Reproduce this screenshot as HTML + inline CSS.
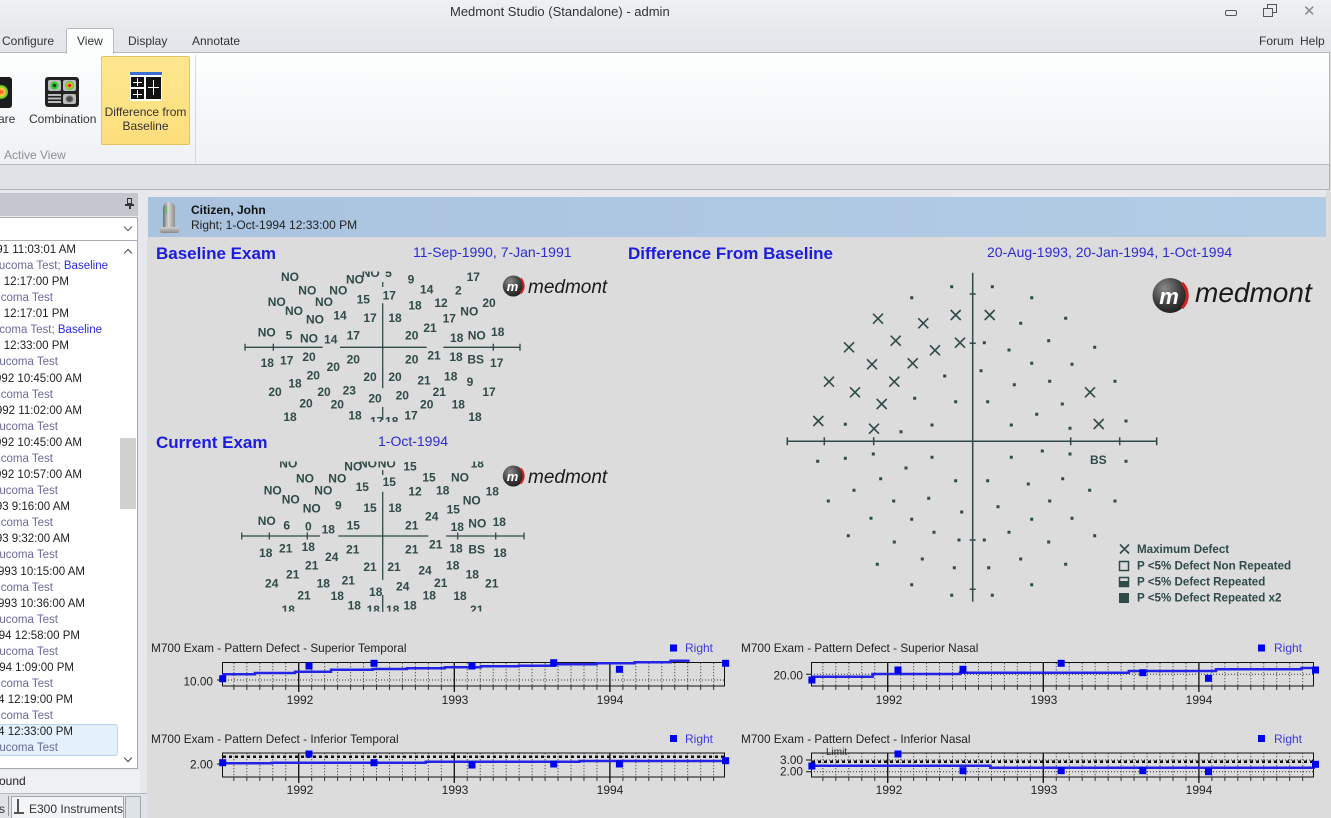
<!DOCTYPE html>
<html><head><meta charset="utf-8"><style>
*{margin:0;padding:0;box-sizing:border-box}
body{width:1331px;height:818px;overflow:hidden;position:relative;background:#dcdcdc;font-family:"Liberation Sans",Arial,sans-serif;}
.a{position:absolute;white-space:nowrap}
.t12{font-size:12px;line-height:14px;color:#333}
.li{position:absolute;left:0;height:16px;overflow:hidden}
.li span{position:absolute;right:0;top:0;white-space:nowrap;font-size:11.5px;line-height:16px}
.tm{color:#1e1e1e}.ty{color:#6a6a9c}.bl{color:#2a2ae0}
</style></head><body>

<!-- top chrome -->
<div class="a" style="left:0;top:0;width:1331px;height:53px;background:linear-gradient(#eef0f3,#e1e4e8)"></div>
<div class="a" style="left:450px;top:4px;font-size:13px;color:#333">Medmont Studio (Standalone) - admin</div>
<div class="a" style="left:1225px;top:10px;width:12px;height:6px;border:1.5px solid #555;border-radius:2px"></div>
<div class="a" style="left:1267px;top:4px;width:10px;height:9px;border:1.5px solid #555"></div>
<div class="a" style="left:1263px;top:8px;width:10px;height:9px;border:1.5px solid #555;background:#e8eaee"></div>
<div class="a" style="left:1303px;top:2px;font-size:15px;color:#888">✕</div>

<div class="a" style="left:-1px;top:52px;width:1331px;height:113px;background:linear-gradient(#fdfefe,#eff1f4);border:1px solid #b4b9bf"></div>
<div class="a" style="left:66px;top:28px;width:48px;height:26px;background:#fcfdfd;border:1px solid #b6bbc2;border-bottom:none;border-radius:2px 2px 0 0"></div>
<div class="a t12" style="left:2px;top:34px">Configure</div>
<div class="a t12" style="left:77px;top:34px">View</div>
<div class="a t12" style="left:128px;top:34px">Display</div>
<div class="a t12" style="left:192px;top:34px">Annotate</div>
<div class="a t12" style="left:1259px;top:34px">Forum</div>
<div class="a t12" style="left:1300px;top:34px">Help</div>

<!-- ribbon buttons -->
<div class="a" style="left:-5px;top:77px;width:17px;height:31px;background:#1c1c1c;border-radius:3px"></div>
<div class="a" style="left:-6px;top:85px;width:14px;height:14px;border-radius:50%;background:radial-gradient(#f33 0,#fc3 35%,#3c3 70%,#1c1c1c 100%)"></div>
<div class="a t12" style="left:-2px;top:112px">are</div>
<div class="a" style="left:45px;top:77px;width:34px;height:30px;background:#222;border-radius:3px"></div>
<div class="a" style="left:48px;top:80px;width:13px;height:11px;background:#bbb;border-radius:2px"></div>
<div class="a" style="left:50px;top:81px;width:9px;height:9px;border-radius:50%;background:radial-gradient(#333 25%,#3c3 30%,#3c3 60%,#bbb 65%)"></div>
<div class="a" style="left:63px;top:80px;width:13px;height:11px;background:#bbb;border-radius:2px"></div>
<div class="a" style="left:65px;top:81px;width:9px;height:9px;border-radius:50%;background:radial-gradient(#e22 25%,#fc2 35%,#3c3 65%,#bbb 70%)"></div>
<div class="a" style="left:48px;top:94px;width:13px;height:10px;background:repeating-linear-gradient(#bbb 0 2px,#222 2px 3.5px)"></div>
<div class="a" style="left:63px;top:94px;width:13px;height:10px;background:#bbb;border-radius:2px"></div>
<div class="a" style="left:65px;top:95px;width:9px;height:8px;border-radius:50%;background:radial-gradient(#444 30%,#888 60%,#bbb 65%)"></div>
<div class="a t12" style="left:29px;top:112px">Combination</div>

<div class="a" style="left:101px;top:56px;width:89px;height:89px;background:linear-gradient(#fde78f,#fdde7c);border:1px solid #e3c263;border-radius:2px"></div>
<div class="a" style="left:130px;top:72px;width:32px;height:29px;background:#fff;border-top:3px solid #3a6fd0"></div>
<div class="a" style="left:131px;top:77px;width:13px;height:10px;background:#111"></div>
<div class="a" style="left:131px;top:89px;width:13px;height:10px;background:#111"></div>
<div class="a" style="left:146px;top:77px;width:15px;height:22px;background:#111"></div>
<div class="a" style="left:153px;top:80px;width:1px;height:15px;background:#fff"></div>
<div class="a" style="left:148px;top:87px;width:11px;height:1px;background:#fff"></div>
<div class="a" style="left:137px;top:78px;width:1px;height:8px;background:#fff"></div>
<div class="a" style="left:133px;top:82px;width:9px;height:1px;background:#fff"></div>
<div class="a" style="left:137px;top:90px;width:1px;height:8px;background:#fff"></div>
<div class="a" style="left:133px;top:94px;width:9px;height:1px;background:#fff"></div>
<div class="a t12" style="left:101px;top:105px;width:89px;text-align:center">Difference from</div>
<div class="a t12" style="left:101px;top:119px;width:89px;text-align:center">Baseline</div>
<div class="a t12" style="left:4px;top:148px;color:#8c9198">Active View</div>
<div class="a" style="left:195px;top:55px;width:1px;height:108px;background:#d5d9de"></div>

<div class="a" style="left:-1px;top:165px;width:1331px;height:25px;background:#dfe2e7;border-bottom:1px solid #aeb3b9;border-right:1px solid #b0b5bb"></div>
<div class="a" style="left:0;top:190px;width:1331px;height:628px;background:#e6e8eb"></div>
<div class="a" style="left:147px;top:237px;width:1184px;height:581px;background:#dcdcdc"></div>
<div class="a" style="left:1326px;top:190px;width:5px;height:50px;background:#dcdcdc"></div>

<!-- header bar -->
<div class="a" style="left:148px;top:197px;width:1178px;height:40px;background:linear-gradient(90deg,#a9c2de,#b3cce6)"></div>
<div class="a" style="left:163px;top:202px;width:12px;height:26px;border-radius:6px 6px 2px 2px;background:linear-gradient(90deg,#6e6e6e,#d8d8d8 45%,#8a8a8a)"></div>
<div class="a" style="left:165px;top:206px;width:2px;height:8px;background:#5fbf6a"></div>
<div class="a" style="left:160px;top:227px;width:19px;height:6px;border-radius:2px;background:linear-gradient(#d0d0d0,#8a8a8a)"></div>
<div class="a" style="left:191px;top:203px;font-size:12px;font-weight:bold;color:#111">Citizen, John</div>
<div class="a" style="left:191px;top:218px;font-size:12px;color:#222">Right; 1-Oct-1994 12:33:00 PM</div>

<!-- left panel -->
<div class="a" style="left:0;top:193px;width:138px;height:23px;background:#c4c8ce"></div>
<div class="a" style="left:127px;top:198px;width:5px;height:6px;border:1.5px solid #333"></div>
<div class="a" style="left:125px;top:204px;width:9px;height:1.5px;background:#333"></div>
<div class="a" style="left:129px;top:205px;width:1.5px;height:4px;background:#333"></div>
<div class="a" style="left:-1px;top:217px;width:139px;height:24px;background:#fff;border:1px solid #abadb3"></div>
<div class="a" style="left:125px;top:224px;width:6px;height:6px;border-right:1.5px solid #555;border-bottom:1.5px solid #555;transform:rotate(45deg)"></div>
<div class="a" style="left:0;top:241px;width:138px;height:528px;background:#fff;border-right:1px solid #a5a9ae;border-bottom:1px solid #a5a9ae"></div>
<div class="a" style="left:120px;top:438px;width:16px;height:71px;background:#d0d0d0"></div>
<div class="a" style="left:125px;top:250px;width:6px;height:6px;border-left:1.5px solid #444;border-top:1.5px solid #444;transform:rotate(45deg)"></div>
<div class="a" style="left:125px;top:755px;width:6px;height:6px;border-right:1.5px solid #444;border-bottom:1.5px solid #444;transform:rotate(45deg)"></div>
<div class="a" style="left:-2px;top:724px;width:120px;height:32px;background:#e4f0fb;border:1px solid #b8d6f0;border-radius:3px"></div>

<div class="li" style="top:242px;width:76px"><span class="tm">1-1991 11:03:01 AM</span></div>
<div class="li" style="top:258px;width:108px"><span class="ty">Glaucoma Test; <b class="bl" style="font-weight:normal">Baseline</b></span></div>
<div class="li" style="top:274px;width:69px"><span class="tm">1991 12:17:00 PM</span></div>
<div class="li" style="top:290px;width:53px"><span class="ty">Glaucoma Test</span></div>
<div class="li" style="top:306px;width:69px"><span class="tm">1991 12:17:01 PM</span></div>
<div class="li" style="top:322px;width:102px"><span class="ty">Glaucoma Test; <b class="bl" style="font-weight:normal">Baseline</b></span></div>
<div class="li" style="top:338px;width:69px"><span class="tm">1991 12:33:00 PM</span></div>
<div class="li" style="top:354px;width:58px"><span class="ty">Glaucoma Test</span></div>
<div class="li" style="top:371px;width:82px"><span class="tm">1992 10:45:00 AM</span></div>
<div class="li" style="top:387px;width:53px"><span class="ty">Glaucoma Test</span></div>
<div class="li" style="top:403px;width:82px"><span class="tm">1992 11:02:00 AM</span></div>
<div class="li" style="top:419px;width:58px"><span class="ty">Glaucoma Test</span></div>
<div class="li" style="top:435px;width:82px"><span class="tm">1992 10:45:00 AM</span></div>
<div class="li" style="top:451px;width:53px"><span class="ty">Glaucoma Test</span></div>
<div class="li" style="top:467px;width:82px"><span class="tm">1992 10:57:00 AM</span></div>
<div class="li" style="top:483px;width:58px"><span class="ty">Glaucoma Test</span></div>
<div class="li" style="top:499px;width:70px"><span class="tm">1993 9:16:00 AM</span></div>
<div class="li" style="top:515px;width:53px"><span class="ty">Glaucoma Test</span></div>
<div class="li" style="top:531px;width:70px"><span class="tm">1993 9:32:00 AM</span></div>
<div class="li" style="top:547px;width:58px"><span class="ty">Glaucoma Test</span></div>
<div class="li" style="top:564px;width:85px"><span class="tm">1993 10:15:00 AM</span></div>
<div class="li" style="top:580px;width:53px"><span class="ty">Glaucoma Test</span></div>
<div class="li" style="top:596px;width:85px"><span class="tm">1993 10:36:00 AM</span></div>
<div class="li" style="top:612px;width:58px"><span class="ty">Glaucoma Test</span></div>
<div class="li" style="top:628px;width:80px"><span class="tm">1994 12:58:00 PM</span></div>
<div class="li" style="top:644px;width:58px"><span class="ty">Glaucoma Test</span></div>
<div class="li" style="top:660px;width:74px"><span class="tm">1994 1:09:00 PM</span></div>
<div class="li" style="top:676px;width:53px"><span class="ty">Glaucoma Test</span></div>
<div class="li" style="top:692px;width:73px"><span class="tm">1994 12:19:00 PM</span></div>
<div class="li" style="top:708px;width:53px"><span class="ty">Glaucoma Test</span></div>
<div class="li" style="top:724px;width:73px"><span class="tm">1994 12:33:00 PM</span></div>
<div class="li" style="top:740px;width:58px"><span class="ty">Glaucoma Test</span></div>

<div class="a" style="left:0;top:770px;width:140px;height:23px;background:#eff0f2"></div>
<div class="a" style="left:-1px;top:774px;font-size:12px;color:#222">ound</div>
<div class="a" style="left:0;top:793px;width:147px;height:25px;background:#dfe2e6;border-top:1px solid #b5bac0"></div>
<div class="a" style="left:-1px;top:802px;font-size:12px;color:#333">s</div>
<div class="a" style="left:8px;top:796px;width:1px;height:20px;background:#8e949b"></div>
<div class="a" style="left:11px;top:796px;width:113px;height:22px;background:#f3f4f6;border:1px solid #a0a6ad;border-bottom:none"></div>
<div class="a" style="left:17px;top:799px;width:2px;height:15px;background:#555"></div>
<div class="a" style="left:14px;top:812px;width:10px;height:2px;background:#555"></div>
<div class="a" style="left:29px;top:802px;font-size:12px;color:#333">E300 Instruments</div>
<div class="a" style="left:125px;top:796px;width:16px;height:22px;border:1px solid #a0a6ad;border-bottom:none"></div>

<svg class="a" style="left:0;top:0" width="1331" height="818" viewBox="0 0 1331 818" xmlns="http://www.w3.org/2000/svg">
<defs>
<clipPath id="cb"><rect x="230" y="271.5" width="300" height="150.5"/></clipPath>
<clipPath id="cc"><rect x="230" y="461.5" width="300" height="150"/></clipPath>
<pattern id="md" patternUnits="userSpaceOnUse" x="298.2" y="0" width="12.967" height="3"><rect width="1" height="1.3" fill="#555"/></pattern>
<pattern id="mt" patternUnits="userSpaceOnUse" x="298.2" y="0" width="12.967" height="30"><rect width="1" height="30" fill="#333"/></pattern>
<radialGradient id="lg" cx="0.35" cy="0.3" r="0.8"><stop offset="0" stop-color="#8a8a8a"/><stop offset="0.6" stop-color="#3a3a3a"/><stop offset="1" stop-color="#1a1a1a"/></radialGradient>
</defs>

<g font-family="Liberation Sans, Arial, sans-serif">
<text x="156" y="259" font-size="17" font-weight="bold" fill="#1c1cdf">Baseline Exam</text>
<text x="413" y="257" font-size="14" fill="#2b2bd6">11-Sep-1990, 7-Jan-1991</text>
<text x="156" y="448" font-size="17" font-weight="bold" fill="#1c1cdf">Current Exam</text>
<text x="378" y="446" font-size="14" fill="#2b2bd6">1-Oct-1994</text>
<text x="628" y="259" font-size="17" font-weight="bold" fill="#1c1cdf">Difference From Baseline</text>
<text x="987" y="257" font-size="14" fill="#2b2bd6">20-Aug-1993, 20-Jan-1994, 1-Oct-1994</text>

<!-- logos -->
<g>
<circle cx="513.3" cy="286" r="10.5" fill="url(#lg)"/>
<path d="M520.5 278.5 A10.5 10.5 0 0 1 520.5 293.5" fill="none" stroke="#d42020" stroke-width="2"/>
<text x="512.5" y="291" font-size="13" font-weight="bold" font-style="italic" fill="#fff" text-anchor="middle">m</text>
<text x="528" y="293" font-size="19" font-style="italic" fill="#1a1a1a">medmont</text>
</g>
<g>
<circle cx="513.3" cy="476" r="10.5" fill="url(#lg)"/>
<path d="M520.5 468.5 A10.5 10.5 0 0 1 520.5 483.5" fill="none" stroke="#d42020" stroke-width="2"/>
<text x="512.5" y="481" font-size="13" font-weight="bold" font-style="italic" fill="#fff" text-anchor="middle">m</text>
<text x="528" y="483" font-size="19" font-style="italic" fill="#1a1a1a">medmont</text>
</g>
<g>
<circle cx="1170" cy="295.5" r="17.5" fill="url(#lg)"/>
<path d="M1182 283 A17.5 17.5 0 0 1 1182 308" fill="none" stroke="#d42020" stroke-width="3"/>
<text x="1169" y="304" font-size="22" font-weight="bold" font-style="italic" fill="#fff" text-anchor="middle">m</text>
<text x="1195" y="302" font-size="28" font-style="italic" fill="#1a1a1a">medmont</text>
</g>

<!-- baseline axes -->
<g stroke="#2f4a48" stroke-width="1.3" fill="none">
<path d="M245 347.3H322.7M340 347.3H426.7M443.3 347.3H520"/>
<path d="M245 343.8v7M273.3 343.8v7M493.3 343.8v7M520 343.8v7"/>
<path d="M382.7 303.3V388.3M382.7 282V287M382.7 407V420"/>
<path d="M241.7 536H320M338.3 536H428.3M446 536H524"/>
<path d="M241.7 532.5v7M269.3 532.5v7M307.3 532.5v7M457.7 532.5v7M495.7 532.5v7M524 532.5v7"/>
<path d="M382.7 491.7V580M382.7 470V475M382.7 595V612"/>
</g>

<g font-size="12" font-weight="bold" fill="#2f4a48" text-anchor="middle" clip-path="url(#cb)">
<text x="290" y="281">NO</text><text x="355" y="283.6">NO</text><text x="370.7" y="276.8">NO</text><text x="388.5" y="276.8">5</text>
<text x="411" y="283.3">9</text><text x="426.7" y="293.6">14</text><text x="458.3" y="294.3">2</text><text x="473.3" y="281">17</text>
<text x="307.3" y="294.3">NO</text><text x="338.3" y="294.3">NO</text><text x="363.3" y="303.6">15</text><text x="389.3" y="299.3">17</text>
<text x="415" y="309.3">18</text><text x="441" y="307">12</text><text x="469.3" y="315.3">NO</text><text x="489" y="307">20</text>
<text x="276.7" y="306">NO</text><text x="294" y="315">NO</text><text x="324" y="306">NO</text><text x="315" y="323.3">NO</text>
<text x="340" y="319.3">14</text><text x="370" y="322">17</text><text x="395" y="322">18</text><text x="449.3" y="322.6">17</text>
<text x="266.7" y="336.6">NO</text><text x="289" y="339.3">5</text><text x="309" y="342.6">NO</text><text x="330.7" y="343.6">14</text>
<text x="353.3" y="339.3">17</text><text x="411.7" y="339.3">20</text><text x="430" y="332">21</text><text x="456.7" y="342">18</text>
<text x="476.7" y="339.3">NO</text><text x="497.7" y="336">18</text>
<text x="267.3" y="367">18</text><text x="286.7" y="364.3">17</text><text x="309" y="361">20</text><text x="333.3" y="371">20</text>
<text x="353.3" y="363.3">20</text><text x="411.7" y="363.3">20</text><text x="434" y="359.3">21</text><text x="456" y="361">18</text>
<text x="475.7" y="363.3">BS</text><text x="496.7" y="367">17</text>
<text x="295" y="387.6">18</text><text x="313.3" y="379.3">20</text><text x="370" y="381">20</text><text x="395" y="381">20</text>
<text x="424" y="384.3">21</text><text x="450.7" y="380.3">18</text><text x="470" y="386">9</text><text x="489" y="396">17</text>
<text x="275" y="396">20</text><text x="324" y="396">20</text><text x="349.3" y="394.3">23</text><text x="375" y="402.6">20</text>
<text x="402.3" y="399.3">20</text><text x="439.3" y="396">21</text>
<text x="306" y="407.6">20</text><text x="337.3" y="408.6">20</text><text x="355" y="419.3">18</text><text x="376.7" y="425.3">17</text>
<text x="391.7" y="425.3">18</text><text x="411" y="419.3">17</text><text x="426.7" y="408.3">20</text><text x="458.3" y="408.3">18</text>
<text x="290" y="421">18</text><text x="475" y="421">18</text>
</g>

<g font-size="12" font-weight="bold" fill="#2f4a48" text-anchor="middle" clip-path="url(#cc)">
<text x="288.3" y="467.3">NO</text><text x="305" y="482.6">NO</text><text x="337.3" y="482.6">NO</text><text x="353.3" y="470.3">NO</text>
<text x="368" y="467.3">NO</text><text x="386.7" y="467.3">NO</text><text x="410" y="470.3">15</text><text x="477.3" y="467.3">18</text>
<text x="362.3" y="491">15</text><text x="389.3" y="486">15</text><text x="429" y="481.6">15</text><text x="460" y="481.6">NO</text>
<text x="272.7" y="494.3">NO</text><text x="323.3" y="494.3">NO</text><text x="415" y="495.3">12</text><text x="442.7" y="494.3">18</text><text x="492.3" y="495.3">18</text>
<text x="290.7" y="503.3">NO</text><text x="311.7" y="512.6">NO</text><text x="338.3" y="509.3">9</text><text x="370" y="512">15</text>
<text x="395" y="512">18</text><text x="431.7" y="520.3">24</text><text x="453.3" y="513.3">15</text><text x="471.7" y="504.3">NO</text>
<text x="266.7" y="525">NO</text><text x="286.7" y="529.3">6</text><text x="308.3" y="530.3">0</text><text x="328.3" y="533.6">18</text>
<text x="353.3" y="529.3">15</text><text x="411.7" y="529.3">21</text><text x="457.3" y="531">18</text><text x="477.3" y="527.6">NO</text><text x="499.3" y="526">18</text>
<text x="265.7" y="557">18</text><text x="285.7" y="552.6">21</text><text x="308.3" y="551">18</text><text x="331.7" y="561">24</text>
<text x="352.7" y="553.3">21</text><text x="411.7" y="553.3">21</text><text x="435.7" y="548.6">21</text><text x="456" y="552.6">18</text>
<text x="476.7" y="553.3">BS</text><text x="500" y="557">18</text>
<text x="292.7" y="578.3">21</text><text x="311.7" y="569.3">21</text><text x="370" y="571">21</text><text x="394" y="571">21</text>
<text x="425" y="574.3">24</text><text x="452.7" y="569.3">18</text><text x="472.3" y="578.3">18</text><text x="491.7" y="587.6">21</text>
<text x="271.7" y="587.6">24</text><text x="323.3" y="587.6">18</text><text x="348.3" y="584.3">21</text><text x="375.7" y="596">18</text>
<text x="402.7" y="590.3">24</text><text x="440.7" y="587">21</text>
<text x="304" y="599.3">21</text><text x="337.3" y="600">18</text><text x="429.3" y="599.3">18</text><text x="460" y="600">18</text>
<text x="288.3" y="614">18</text><text x="354.3" y="609.3">18</text><text x="373.3" y="614">18</text><text x="392.7" y="614">18</text>
<text x="410" y="609.3">18</text><text x="476.7" y="614">21</text>
</g>

<!-- difference plot -->
<g stroke="#2f4a48" stroke-width="1.5" fill="none">
<path d="M787.3 441.3H1156.7M972.7 272.7V601.7"/>
<path d="M787.3 437.3v8M824.3 437.3v8M873.7 437.3v8M1070.7 437.3v8M1119.7 437.3v8M1156.7 437.3v8"/>
<path d="M969.7 294h6M969.7 343.3h6M969.7 540h6M969.7 589.3h6"/>
<path stroke-width="1.6" d="M873 313.7l10 10m0-10l-10 10M918.3 318.3l10 10m0-10l-10 10M950.7 310l10 10m0-10l-10 10M984.7 310l10 10m0-10l-10 10M844 342.3l10 10m0-10l-10 10M890.7 335.7l10 10m0-10l-10 10M930 345.3l10 10m0-10l-10 10M955 337.7l10 10m0-10l-10 10M867 359.3l10 10m0-10l-10 10M907.7 358.3l10 10m0-10l-10 10M824 376.7l10 10m0-10l-10 10M889.3 376.7l10 10m0-10l-10 10M850 387.3l10 10m0-10l-10 10M876.7 399l10 10m0-10l-10 10M813.3 416l10 10m0-10l-10 10M869 423.7l10 10m0-10l-10 10M1085 387.3l10 10m0-10l-10 10M1093.7 419l10 10m0-10l-10 10M1120 544.5l9 9m0-9l-9 9"/>
<rect x="1119.5" y="561.5" width="9" height="9"/>
<rect x="1119.5" y="577.5" width="9" height="9"/>
</g>
<rect x="1119.5" y="581" width="9" height="6" fill="#2f4a48"/>
<rect x="1119" y="593" width="10" height="10" fill="#2f4a48"/>
<path fill="#2f4a48" d="M950.2 285.2h3v3h-3zM990.8 285.2h3v3h-3zM910.2 296.2h3v3h-3zM1030.2 296.2h3v3h-3zM1019.2 321.8h3v3h-3zM1064.2 316.8h3v3h-3zM982.8 341.2h3v3h-3zM1007.5 348.5h3v3h-3zM1047.2 339.2h3v3h-3zM1093.2 345.8h3v3h-3zM1030.2 361.8h3v3h-3zM1070.5 362.8h3v3h-3zM979.5 369.2h3v3h-3zM943.2 374.5h3v3h-3zM1012.8 383.2h3v3h-3zM1048.2 379.8h3v3h-3zM1113.5 379.8h3v3h-3zM913.2 396.8h3v3h-3zM954.2 400.2h3v3h-3zM986.2 400.2h3v3h-3zM1060.8 402.5h3v3h-3zM1035.2 412.8h3v3h-3zM843.8 422.8h3v3h-3zM899.5 430.2h3v3h-3zM930.5 423.5h3v3h-3zM1009.8 423.5h3v3h-3zM1068.5 426.8h3v3h-3zM1124.5 419.5h3v3h-3zM816.2 459.8h3v3h-3zM843.8 456.8h3v3h-3zM871.8 452.5h3v3h-3zM930.5 455.8h3v3h-3zM1009.8 455.8h3v3h-3zM1040.8 449.5h3v3h-3zM1068.5 452.5h3v3h-3zM1124.5 459.8h3v3h-3zM904.5 466.5h3v3h-3zM879.2 477.2h3v3h-3zM954.2 479.2h3v3h-3zM986.2 479.2h3v3h-3zM1026.8 482.5h3v3h-3zM1061.2 477.2h3v3h-3zM852.5 488.8h3v3h-3zM1088.2 488.8h3v3h-3zM826.8 499.5h3v3h-3zM892.2 499.5h3v3h-3zM927.2 496.8h3v3h-3zM996.5 505.2h3v3h-3zM1048.2 499.5h3v3h-3zM1113.5 499.5h3v3h-3zM960.2 510.5h3v3h-3zM869.5 516.8h3v3h-3zM910.2 517.8h3v3h-3zM1030.2 517.8h3v3h-3zM1070.5 516.8h3v3h-3zM846.8 534.2h3v3h-3zM932.5 530.8h3v3h-3zM1007.5 530.8h3v3h-3zM1093.2 534.2h3v3h-3zM892.8 540.5h3v3h-3zM957.5 538.5h3v3h-3zM982.8 538.5h3v3h-3zM1047.2 540.5h3v3h-3zM875.8 562.8h3v3h-3zM920.8 557.5h3v3h-3zM952.8 566.2h3v3h-3zM987.2 566.2h3v3h-3zM1019.2 557.5h3v3h-3zM1064.2 562.8h3v3h-3zM910.2 583.2h3v3h-3zM1030.2 583.2h3v3h-3zM950.2 593.8h3v3h-3zM990.8 593.8h3v3h-3z"/>
<text x="1098.3" y="464" font-size="12" font-weight="bold" fill="#2f4a48" text-anchor="middle">BS</text>
<g font-size="11.6" font-weight="bold" fill="#2f4a48">
<text x="1137" y="553.2">Maximum Defect</text>
<text x="1137" y="569.6">P &lt;5% Defect Non Repeated</text>
<text x="1137" y="585.6">P &lt;5% Defect Repeated</text>
<text x="1137" y="601.6">P &lt;5% Defect Repeated x2</text>
</g>

<!-- bottom charts: frames -->
<g id="frames">
<rect x="222" y="662" width="503" height="24" fill="url(#md)"/>
<rect x="222" y="686" width="503" height="4" fill="url(#mt)"/>
<rect x="222" y="752.5" width="503" height="24.5" fill="url(#md)"/>
<rect x="222" y="777" width="503" height="4" fill="url(#mt)"/>
<path d="M298.7 662V692M454.3 662V692M609.9 662V692M298.7 752.5V783M454.3 752.5V783M609.9 752.5V783" stroke="#111" stroke-width="1.3"/>
<rect x="222.5" y="662.5" width="502" height="23.5" fill="none" stroke="#111"/>
<rect x="222.5" y="753" width="502" height="24" fill="none" stroke="#111"/>
</g>
<g transform="translate(589,0)">
<rect x="222" y="662" width="503" height="24" fill="url(#md)"/>
<rect x="222" y="686" width="503" height="4" fill="url(#mt)"/>
<rect x="222" y="752.5" width="503" height="24.5" fill="url(#md)"/>
<rect x="222" y="777" width="503" height="4" fill="url(#mt)"/>
<path d="M298.7 662V692M454.3 662V692M609.9 662V692M298.7 752.5V783M454.3 752.5V783M609.9 752.5V783" stroke="#111" stroke-width="1.3"/>
<rect x="222.5" y="662.5" width="502" height="23.5" fill="none" stroke="#111"/>
<rect x="222.5" y="753" width="502" height="24" fill="none" stroke="#111"/>
</g>

<!-- horizontal grid / limit lines -->
<g stroke="#333" stroke-width="1" stroke-dasharray="1 2" fill="none">
<path d="M222 680H725M811 674.3H1314M811 760H1314M811 771.7H1314"/>
</g>
<g stroke="#111" stroke-width="2.5" stroke-dasharray="3 3" fill="none">
<path d="M223 756.7H725M812 761.7H1314"/>
</g>
<path d="M217 680h5M217 764h5M806 674.3h5M806 760h5M806 771.7h5" stroke="#111"/>
<text x="826" y="755" font-size="10" fill="#222">Limit</text>

<!-- series -->
<g fill="none" stroke="#2424e6" stroke-width="2.5">
<path d="M222 674.3H255V673H295V671.7H331V669.7H372.7V669H406.9V668.3H444.8V667.3H480.9V666.3H518.8V665.7H554.9V664.3H596.6V663.3H634.6V662.3H670.6V660.7H689.6"/>
<path d="M222 763.3H272V762.7H425.8V761.7H579.5V761H725"/>
<path d="M811 676.7H872.6V674H959.9V672.7H1128.8V671H1216V669.3H1301.5V668H1315"/>
<path d="M811 765.7H990.3V767.7H1315"/>
</g>
<g fill="#0000f0">
<rect x="219.2" y="675.2" width="7" height="7"/><rect x="305.5" y="662.5" width="7" height="7"/><rect x="370.5" y="659.8" width="7" height="7"/><rect x="468.5" y="662.5" width="7" height="7"/><rect x="550.2" y="659.2" width="7" height="7"/><rect x="615.9" y="665.8" width="7" height="7"/><rect x="722.1" y="659.8" width="7" height="7"/>
<rect x="219.2" y="759.2" width="7" height="7"/><rect x="305.5" y="750.5" width="7" height="7"/><rect x="370.5" y="759.2" width="7" height="7"/><rect x="468.5" y="761.5" width="7" height="7"/><rect x="550.2" y="760.5" width="7" height="7"/><rect x="615.9" y="760.5" width="7" height="7"/><rect x="722.1" y="757.2" width="7" height="7"/>
<rect x="808.4" y="676.5" width="7" height="7"/><rect x="894.5" y="666.5" width="7" height="7"/><rect x="959.5" y="665.8" width="7" height="7"/><rect x="1057.7" y="659.8" width="7" height="7"/><rect x="1139.3" y="669.2" width="7" height="7"/><rect x="1205" y="674.8" width="7" height="7"/><rect x="1312" y="666.5" width="7" height="7"/>
<rect x="808.4" y="762.5" width="7" height="7"/><rect x="894.5" y="750.5" width="7" height="7"/><rect x="959.5" y="767.2" width="7" height="7"/><rect x="1057.7" y="767.2" width="7" height="7"/><rect x="1139.3" y="767.2" width="7" height="7"/><rect x="1205" y="768.2" width="7" height="7"/><rect x="1312" y="760.8" width="7" height="7"/>
<rect x="670" y="644.5" width="7" height="7"/><rect x="670" y="735" width="7" height="7"/><rect x="1258" y="644.5" width="7" height="7"/><rect x="1258" y="735" width="7" height="7"/>
</g>

<!-- chart labels -->
<g font-size="11.8" fill="#222">
<text x="151" y="652">M700 Exam - Pattern Defect - Superior Temporal</text>
<text x="151" y="743">M700 Exam - Pattern Defect - Inferior Temporal</text>
<text x="741" y="652">M700 Exam - Pattern Defect - Superior Nasal</text>
<text x="741" y="743">M700 Exam - Pattern Defect - Inferior Nasal</text>
<text x="213" y="685.3" text-anchor="end">10.00</text>
<text x="213" y="768.3" text-anchor="end">2.00</text>
<text x="803" y="679.7" text-anchor="end">20.00</text>
<text x="803" y="764" text-anchor="end">3.00</text>
<text x="803" y="775.7" text-anchor="end">2.00</text>
</g>
<g font-size="12" fill="#222" text-anchor="middle">
<text x="300" y="704">1992</text><text x="455" y="704">1993</text><text x="610" y="704">1994</text>
<text x="300" y="794">1992</text><text x="455" y="794">1993</text><text x="610" y="794">1994</text>
<text x="889" y="704">1992</text><text x="1044" y="704">1993</text><text x="1199" y="704">1994</text>
<text x="889" y="794">1992</text><text x="1044" y="794">1993</text><text x="1199" y="794">1994</text>
</g>
<g font-size="12" fill="#3a3ae0">
<text x="685" y="652">Right</text><text x="685" y="743">Right</text>
<text x="1274" y="652">Right</text><text x="1274" y="743">Right</text>
</g>
</g>
</svg>
</body></html>
